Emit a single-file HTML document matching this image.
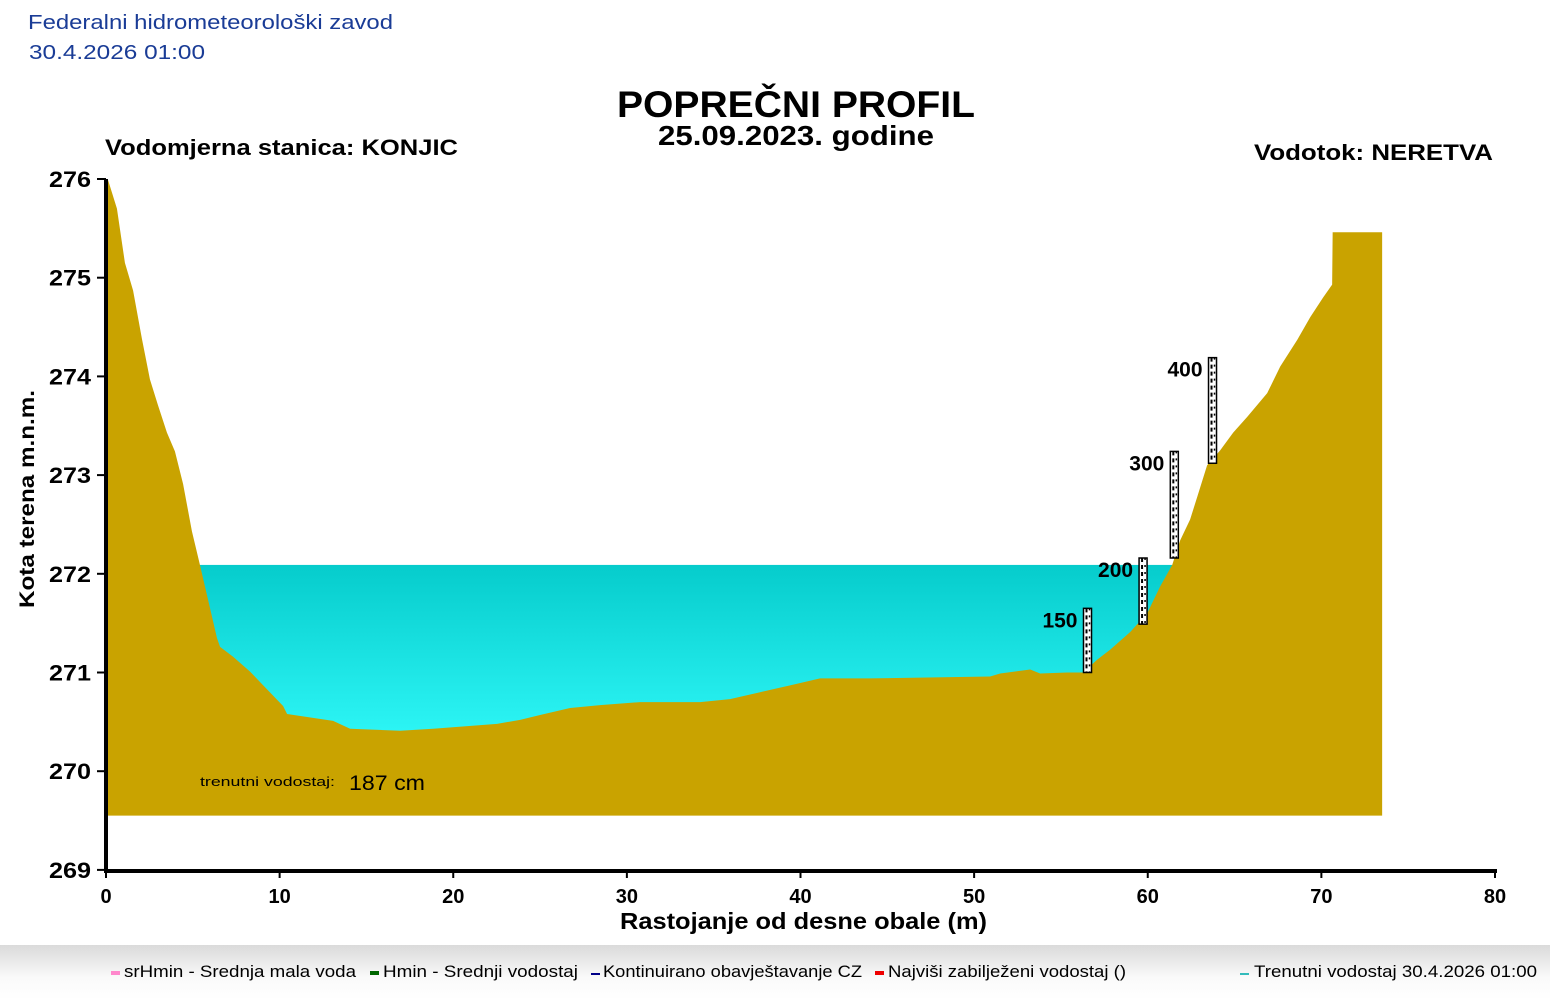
<!DOCTYPE html>
<html><head><meta charset="utf-8"><style>
body{margin:0;width:1550px;height:1000px;overflow:hidden;background:#fff;font-family:"Liberation Sans",sans-serif}
svg{position:absolute;left:0;top:0}
</style></head><body>
<svg width="1550" height="1000">
<defs>
<linearGradient id="wg" x1="0" y1="0" x2="0" y2="1"><stop offset="0" stop-color="#06cccc"/><stop offset="1" stop-color="#36ffff"/></linearGradient>
<linearGradient id="lg" x1="0" y1="0" x2="0" y2="1"><stop offset="0" stop-color="#dadada"/><stop offset="0.6" stop-color="#fafafa"/><stop offset="1" stop-color="#fff"/></linearGradient>
</defs>
<text x="28" y="29" font-size="20" fill="#1a3c96" textLength="365" lengthAdjust="spacingAndGlyphs">Federalni hidrometeorološki zavod</text>
<text x="29" y="59" font-size="20" fill="#1a3c96" textLength="176" lengthAdjust="spacingAndGlyphs">30.4.2026 01:00</text>
<text x="617" y="117" font-size="37" font-weight="bold" textLength="358" lengthAdjust="spacingAndGlyphs">POPREČNI PROFIL</text>
<text x="658" y="145" font-size="28" font-weight="bold" textLength="276" lengthAdjust="spacingAndGlyphs">25.09.2023. godine</text>
<text x="105" y="155" font-size="22" font-weight="bold" textLength="353" lengthAdjust="spacingAndGlyphs">Vodomjerna stanica: KONJIC</text>
<text x="1254" y="160" font-size="22" font-weight="bold" textLength="239" lengthAdjust="spacingAndGlyphs">Vodotok: NERETVA</text>
<g id="plot"></g>
<text transform="translate(34,499) rotate(-90)" font-size="21" font-weight="bold" text-anchor="middle" textLength="218" lengthAdjust="spacingAndGlyphs">Kota terena m.n.m.</text>
<text x="620" y="929" font-size="23" font-weight="bold" textLength="367" lengthAdjust="spacingAndGlyphs">Rastojanje od desne obale (m)</text>
<text x="200" y="786" font-size="13" textLength="135" lengthAdjust="spacingAndGlyphs">trenutni vodostaj:</text>
<text x="349" y="790" font-size="21" textLength="76" lengthAdjust="spacingAndGlyphs">187 cm</text>
<rect x="0" y="945" width="1550" height="55" fill="url(#lg)"/>
<g font-size="17">
<rect x="111" y="971" width="9" height="4" fill="#ff88cc"/><text x="124" y="977" textLength="232" lengthAdjust="spacingAndGlyphs">srHmin - Srednja mala voda</text>
<rect x="370" y="971" width="9" height="4" fill="#006600"/><text x="383" y="977" textLength="195" lengthAdjust="spacingAndGlyphs">Hmin - Srednji vodostaj</text>
<rect x="591" y="973" width="9" height="2" fill="#000088"/><text x="603" y="977" textLength="259" lengthAdjust="spacingAndGlyphs">Kontinuirano obavještavanje CZ</text>
<rect x="875" y="971" width="9" height="4" fill="#ee0000"/><text x="888" y="977" textLength="238" lengthAdjust="spacingAndGlyphs">Najviši zabilježeni vodostaj ()</text>
<rect x="1240" y="973" width="9" height="2" fill="#33bbbb"/><text x="1254" y="977" textLength="283" lengthAdjust="spacingAndGlyphs">Trenutni vodostaj 30.4.2026 01:00</text>
</g>
</svg>
<script>
const dist=[0.1,0.63,1.09,1.56,2.07,2.53,2.99,3.51,3.97,4.44,4.95,5.41,6.39,6.57,7.32,8.29,9.27,10.2,10.43,13.08,14.06,16.94,18.84,22.52,23.85,25.0,26.73,28.46,30.76,34.22,35.94,37.67,39.4,41.13,44.0,50.92,51.5,53.23,53.8,55.36,56.28,57.09,57.83,58.99,59.97,60.71,61.41,61.87,62.44,62.85,63.42,64.17,64.92,65.73,66.88,67.63,68.61,69.36,70.1,70.62,70.65,73.5];
const elev=[276,275.7,275.15,274.87,274.38,273.97,273.71,273.43,273.24,272.91,272.43,272.09,271.35,271.26,271.16,271.01,270.83,270.66,270.58,270.51,270.43,270.41,270.43,270.48,270.52,270.57,270.64,270.67,270.7,270.7,270.73,270.8,270.87,270.94,270.94,270.96,270.99,271.03,270.99,271.0,271.0,271.13,271.23,271.41,271.6,271.87,272.09,272.34,272.55,272.78,273.1,273.25,273.43,273.59,273.83,274.1,274.37,274.6,274.8,274.93,275.46,275.46];
const baseElev=269.55;
const waterLevel=272.09;
const waterFrom=5.41, waterTo=61.41;
const staffLabels=["150","200","300","400"];
const staffDist=[56.3,59.5,61.3,63.5];
const staffBottom=[271.0,271.49,272.16,273.12];
const staffTop=[271.65,272.16,273.24,274.19];
const xTicks=[0,10,20,30,40,50,60,70,80];
const yTicks=[269,270,271,272,273,274,275,276];
const X=d=>106+d*17.3625, Y=h=>179+(276-h)*98.7;
const NS="http://www.w3.org/2000/svg", g=document.getElementById('plot');
function mk(t,a){const e=document.createElementNS(NS,t);for(const k in a)e.setAttribute(k,a[k]);g.appendChild(e);return e;}
const w=mk('rect',{x:X(waterFrom),y:Y(waterLevel),width:X(waterTo)-X(waterFrom),height:Y(baseElev)-Y(waterLevel)-40,fill:'url(#wg)'});


let pts=`${X(dist[0])},${Y(baseElev)} `;
for(let i=0;i<dist.length;i++){pts+=`${X(dist[i])},${Y(elev[i])} `;}
pts+=`${X(dist[dist.length-1])},${Y(baseElev)}`;
const t=mk('polygon',{points:pts,fill:'#c9a300'});


for(let i=0;i<staffLabels.length;i++){
 const x=X(staffDist[i]),y1=Y(staffTop[i]),y2=Y(staffBottom[i]);
 const s=mk('rect',{x:x,y:y1,width:8,height:y2-y1,fill:'#fff',stroke:'#000','stroke-width':1.5});
 
 
 mk('line',{x1:x+3,y1:y1,x2:x+3,y2:y2,stroke:'#000','stroke-width':2,'stroke-dasharray':'4 3'});
 mk('line',{x1:x+6,y1:y1,x2:x+6,y2:y2,stroke:'#000','stroke-width':1.5,'stroke-dasharray':'2 5'});
 const l=mk('text',{x:x-6,y:y1+19,'font-size':21,'font-weight':'bold','text-anchor':'end'});
 l.textContent=staffLabels[i];
 
 
}
const ya=mk('line',{x1:106,y1:Y(276),x2:106,y2:872,stroke:'#000','stroke-width':4});


const xa=mk('line',{x1:104,y1:871,x2:1497,y2:871,stroke:'#000','stroke-width':4});


yTicks.forEach(v=>{
 mk('line',{x1:97,y1:Y(v),x2:106,y2:Y(v),stroke:'#000','stroke-width':2});
 const l=mk('text',{x:91,y:Y(v)+8,'font-size':22,'font-weight':'bold','text-anchor':'end',textLength:42,lengthAdjust:'spacingAndGlyphs'});
 l.textContent=v;
 
 
});
xTicks.forEach(v=>{
 mk('line',{x1:X(v),y1:871,x2:X(v),y2:878,stroke:'#000','stroke-width':2});
 const l=mk('text',{x:X(v),y:903,'font-size':20,'font-weight':'bold','text-anchor':'middle'});
 l.textContent=v;
 
 
});
</script>
</body></html>
